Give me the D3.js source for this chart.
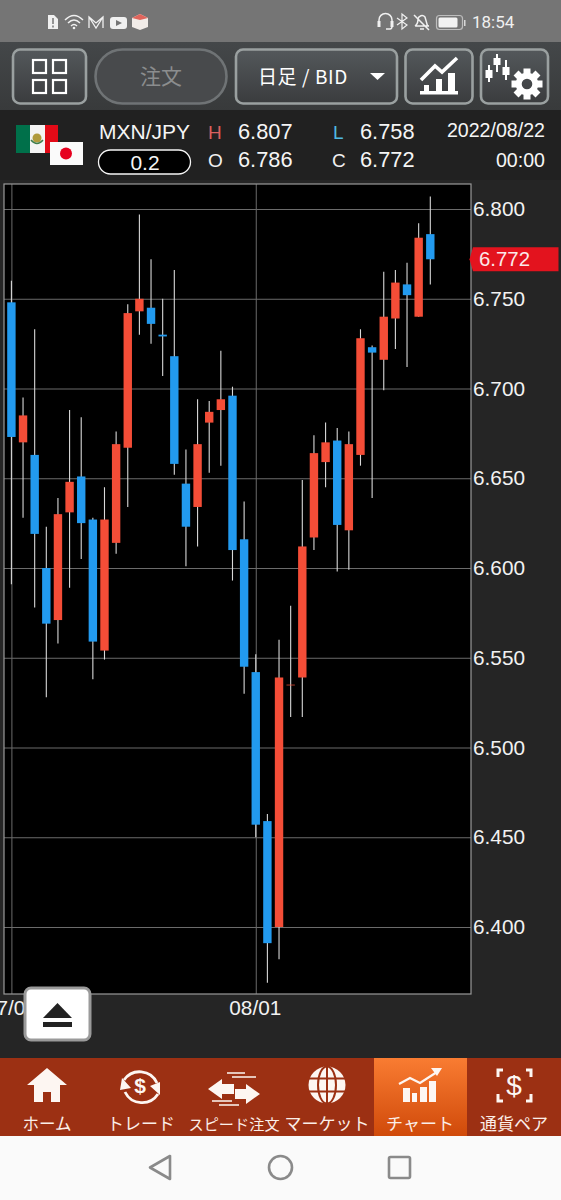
<!DOCTYPE html>
<html>
<head>
<meta charset="utf-8">
<script src="https://cdn.jsdelivr.net/npm/d3@7"></script>
<style>
  html, body { margin: 0; padding: 0; background: #252525; overflow: hidden; }
  svg { display: block; }
  text { font-family: "Liberation Sans", Arial, sans-serif; }
  .jp { font-family: "Noto Sans CJK JP", sans-serif; }
</style>
</head>
<body>
<div id="chart"></div>
<script>
// candle values, oldest first
const opens = [6.748, 6.670, 6.663, 6.600, 6.571, 6.631, 6.651, 6.627, 6.554, 6.614, 6.667, 6.743, 6.745, 6.730, 6.718, 6.647, 6.634, 6.681, 6.688, 6.696, 6.616, 6.542, 6.459, 6.400, 6.535, 6.539, 6.617, 6.659, 6.671, 6.621, 6.663, 6.723, 6.716, 6.739, 6.758, 6.740, 6.786];
const highs = [6.760, 6.695, 6.733, 6.623, 6.639, 6.688, 6.684, 6.628, 6.645, 6.676, 6.747, 6.797, 6.772, 6.750, 6.766, 6.666, 6.694, 6.693, 6.721, 6.701, 6.637, 6.552, 6.463, 6.560, 6.579, 6.649, 6.674, 6.681, 6.678, 6.676, 6.733, 6.724, 6.765, 6.766, 6.770, 6.792, 6.807];
const lows = [6.591, 6.628, 6.578, 6.528, 6.558, 6.589, 6.605, 6.538, 6.549, 6.608, 6.634, 6.730, 6.725, 6.707, 6.652, 6.601, 6.612, 6.653, 6.657, 6.593, 6.530, 6.450, 6.369, 6.382, 6.517, 6.517, 6.610, 6.645, 6.598, 6.599, 6.657, 6.639, 6.699, 6.722, 6.712, 6.740, 6.758];
const closes = [6.673, 6.685, 6.619, 6.569, 6.630, 6.648, 6.625, 6.559, 6.627, 6.669, 6.742, 6.750, 6.736, 6.729, 6.658, 6.623, 6.669, 6.687, 6.694, 6.610, 6.545, 6.457, 6.391, 6.539, 6.535, 6.612, 6.664, 6.670, 6.624, 6.669, 6.728, 6.720, 6.740, 6.759, 6.752, 6.784, 6.772];

const priceTicks = [6.800, 6.750, 6.700, 6.650, 6.600, 6.550, 6.500, 6.450, 6.400];
const dateTickIndex = [0, 21];
const dateTickLabels = ["07/01", "08/01"];

const navLabels = ["ホーム", "トレード", "スピード注文", "マーケット", "チャート", "通貨ペア"];

const upColor = "#f44d37";
const downColor = "#229aef";

const width = 561;
const height = 1200;
const plot = { left: 4, right: 471, top: 184, bottom: 994 };

const svg = d3.select("#chart").append("svg")
  .attr("width", width)
  .attr("height", height)
  .attr("viewBox", `0 0 ${width} ${height}`);

const defs = svg.append("defs");

function gradient(id, stops) {
  const g = defs.append("linearGradient").attr("id", id)
    .attr("x1", 0).attr("y1", 0).attr("x2", 0).attr("y2", 1);
  stops.forEach((s, i) => {
    g.append("stop").attr("offset", i / (stops.length - 1)).attr("stop-color", s);
  });
}
gradient("toolbarBg", ["#444749", "#383a3b"]);
gradient("buttonBg", ["#54585b", "#3a3c3e"]);
gradient("activeTab", ["#f97c32", "#d04a0a"]);

// page chrome -----------------------------------------------------------
svg.append("rect").attr("width", width).attr("height", height).attr("fill", "#252525");
svg.append("rect").attr("width", width).attr("height", 42).attr("fill", "#757575");
svg.append("rect").attr("y", 42).attr("width", width).attr("height", 68).attr("fill", "url(#toolbarBg)");
svg.append("rect").attr("y", 110).attr("width", width).attr("height", 70).attr("fill", "#212121");

drawStatusBar();
drawToolbar();
drawInfoRow();

// chart -----------------------------------------------------------------
const x = d3.scaleLinear()
  .domain([0, opens.length - 1])
  .range([11.4, 430.3]);

const y = d3.scaleLinear()
  .domain([6.8, 6.4])
  .range([209, 927]);

svg.append("rect")
  .attr("x", plot.left)
  .attr("y", plot.top)
  .attr("width", plot.right - plot.left)
  .attr("height", plot.bottom - plot.top)
  .attr("fill", "#000");

// horizontal grid, the axis' own ticks stretched over the plot
const gridY = svg.append("g")
  .attr("transform", `translate(${plot.left},0)`)
  .call(d3.axisRight(y).tickValues(priceTicks).tickSize(plot.right - plot.left).tickFormat(""));
gridY.select(".domain").remove();
gridY.selectAll("line").attr("stroke", "#6b6b6b").attr("stroke-width", 1);

const gridX = svg.append("g")
  .attr("transform", `translate(0,${plot.top})`)
  .call(d3.axisBottom(x).tickValues(dateTickIndex).tickSize(plot.bottom - plot.top).tickFormat(""));
gridX.select(".domain").remove();
gridX.selectAll("line").attr("stroke", "#6b6b6b").attr("stroke-width", 1);

svg.append("rect")
  .attr("x", plot.left)
  .attr("y", plot.top)
  .attr("width", plot.right - plot.left)
  .attr("height", plot.bottom - plot.top)
  .attr("fill", "none")
  .attr("stroke", "#9a9a9a")
  .attr("stroke-width", 1.2);

const candles = svg.append("g").selectAll("g")
  .data(opens.map((o, i) => ({ i, o, h: highs[i], l: lows[i], c: closes[i] })))
  .join("g");

candles.append("line")
  .attr("x1", d => x(d.i))
  .attr("x2", d => x(d.i))
  .attr("y1", d => y(d.h))
  .attr("y2", d => y(d.l))
  .attr("stroke", "#d8d8d8")
  .attr("stroke-width", 1.1);

candles.append("rect")
  .attr("x", d => x(d.i) - 4.2)
  .attr("width", 8.4)
  .attr("y", d => y(Math.max(d.o, d.c)))
  .attr("height", d => Math.max(0.7, Math.abs(y(d.o) - y(d.c))))
  .attr("fill", d => d.c < d.o ? downColor : upColor);

const priceAxis = svg.append("g")
  .attr("transform", `translate(${plot.right + 1},0)`)
  .call(d3.axisRight(y).tickValues(priceTicks).tickSize(0).tickFormat(d3.format(".3f")));
priceAxis.select(".domain").remove();
priceAxis.selectAll("text")
  .attr("x", 1)
  .attr("fill", "#f2f2f2")
  .style("font-size", "20.8px")
  .style("font-family", "'Liberation Sans', Arial, sans-serif");

const dateAxis = svg.append("g")
  .attr("transform", `translate(-1,${plot.bottom})`)
  .call(d3.axisBottom(x).tickValues(dateTickIndex).tickSize(0).tickFormat((d, i) => dateTickLabels[i]));
dateAxis.select(".domain").remove();
dateAxis.selectAll("text")
  .attr("y", 6)
  .attr("fill", "#f2f2f2")
  .style("font-size", "20.8px")
  .style("font-family", "'Liberation Sans', Arial, sans-serif");

// last price tag
const lastClose = closes[closes.length - 1];
const tagY = y(lastClose);
svg.append("path")
  .attr("d", `M469.5,${tagY} L473,${tagY - 12} H558.5 V${tagY + 12} H473 Z`)
  .attr("fill", "#e3131e");
svg.append("text")
  .attr("x", 479)
  .attr("y", tagY + 7)
  .attr("fill", "#fbe9e9")
  .attr("font-size", 20.4)
  .text(d3.format(".3f")(lastClose));

drawEjectButton();
drawNav();

// helpers ---------------------------------------------------------------
function button(bx, by, w, h, rx, stroke) {
  svg.append("rect")
    .attr("x", bx).attr("y", by).attr("width", w).attr("height", h).attr("rx", rx)
    .attr("fill", "url(#buttonBg)")
    .attr("stroke", stroke)
    .attr("stroke-width", 2.6);
}

function drawStatusBar() {
  const g = svg.append("g").attr("fill", "none").attr("stroke", "#f0f0f0").attr("stroke-width", 1.5);
  // sim alert
  g.append("path").attr("d", "M48,15 H54 L58,19 V29 H48 Z").attr("fill", "#f0f0f0").attr("stroke", "none");
  g.append("path").attr("d", "M53,18 V24 M53,25.5 V27.5").attr("stroke", "#757575");
  // wifi
  g.append("path").attr("d", "M65,20 Q74,11 83,20 M68,23 Q74,17 80,23 M71,26 Q74,23 77,26");
  g.append("circle").attr("cx", 74).attr("cy", 28).attr("r", 1.3).attr("fill", "#f0f0f0").attr("stroke", "none");
  // gmail
  g.append("path").attr("d", "M89,28 V17 L96,23 L103,17 V28 M89,17 L96,28 L103,17").attr("stroke-width", 1.3);
  // youtube
  svg.append("rect").attr("x", 110).attr("y", 17).attr("width", 17).attr("height", 12).attr("rx", 3).attr("fill", "#f0f0f0");
  svg.append("path").attr("d", "M116,20 L122,23 L116,26 Z").attr("fill", "#757575");
  // store box
  svg.append("path").attr("d", "M132,18 L140,14 L148,18 V27 L140,30 L132,27 Z").attr("fill", "#f1ece8");
  svg.append("path").attr("d", "M132,18 L140,14 L148,18 L140,20 Z").attr("fill", "#e0655c");
  // headset, bluetooth, mute, battery
  g.append("path").attr("d", "M379,25 V20 A6.5,6.5 0 0 1 392,20 V25 M386,29 H390 Q392,29 392,26");
  svg.append("rect").attr("x", 377.5).attr("y", 21).attr("width", 3).attr("height", 6).attr("fill", "#f0f0f0");
  svg.append("rect").attr("x", 390.5).attr("y", 21).attr("width", 3).attr("height", 6).attr("fill", "#f0f0f0");
  g.append("path").attr("d", "M397,18 L407,25 L402,29 V14 L407,18 L397,25").attr("stroke-width", 1.2);
  g.append("path").attr("d", "M415,26 Q418,24 418,19 A4,4 0 0 1 425,17 L427,24 Q427,26 429,26 H415 M414,15 L429,30 M420,29 H424");
  svg.append("rect").attr("x", 436.5).attr("y", 15.5).attr("width", 26).attr("height", 14).attr("rx", 3)
    .attr("fill", "none").attr("stroke", "#bdbdbd").attr("stroke-width", 1.2);
  svg.append("rect").attr("x", 438.5).attr("y", 17.5).attr("width", 19).attr("height", 10).attr("rx", 1.5).attr("fill", "#f2f2f2");
  svg.append("rect").attr("x", 464).attr("y", 20).attr("width", 1.5).attr("height", 6).attr("fill", "#d8d8d8");
  svg.append("text").attr("x", 472).attr("y", 28).attr("fill", "#f0f0f0")
    .attr("font-size", 17).style("font-family", "Roboto, sans-serif").text("18:54");
}

function drawToolbar() {
  button(13, 49.5, 73, 54, 7, "#9aa0a0");
  // order button is disabled, so it sits dimmer
  svg.append("rect").attr("x", 95.5).attr("y", 49.5).attr("width", 131).attr("height", 54).attr("rx", 27)
    .attr("fill", "#484a4c").attr("stroke", "#6f7375").attr("stroke-width", 2.6);
  button(236, 49.5, 161, 54, 7, "#9aa0a0");
  button(405.5, 49.5, 67, 54, 7, "#9aa0a0");
  button(481, 49.5, 67, 54, 7, "#9aa0a0");

  // grid icon
  [[33, 60], [53, 60], [33, 80], [53, 80]].forEach(p => {
    svg.append("rect").attr("x", p[0]).attr("y", p[1]).attr("width", 13).attr("height", 13)
      .attr("fill", "none").attr("stroke", "#fff").attr("stroke-width", 2.2);
  });

  svg.append("text").attr("class", "jp").attr("x", 161).attr("y", 84).attr("text-anchor", "middle")
    .attr("font-size", 21).attr("fill", "#8b8d8e").text("注文");
  svg.append("text").attr("class", "jp").attr("x", 258).attr("y", 84)
    .attr("font-size", 19).attr("letter-spacing", 0.6).attr("fill", "#fff").text("日足 / BID");
  svg.append("path").attr("d", "M370,73 H385 L377.5,80 Z").attr("fill", "#fff");

  // line + bars icon
  svg.append("path").attr("d", "M420,94.5 V91 H424 V85 H429 V91 H436 V79 H442 V91 H448 V73 H455 V91 H458 V94.5 Z").attr("fill", "#fff");
  svg.append("path").attr("d", "M421,80 L435,66 L442,72 L457,58").attr("fill", "none").attr("stroke", "#fff").attr("stroke-width", 3.6);

  // candles + gear icon
  const ic = svg.append("g").attr("fill", "#fff");
  [[489, 70, 78, 65, 82], [497, 58, 65, 54, 72], [506, 67, 75, 60, 80]].forEach(c => {
    ic.append("rect").attr("x", c[0] - 1).attr("y", c[3]).attr("width", 2).attr("height", c[4] - c[3]);
    ic.append("rect").attr("x", c[0] - 3.5).attr("y", c[1]).attr("width", 7).attr("height", c[2] - c[1]);
  });
  const gear = svg.append("g").attr("transform", "translate(527,84)");
  d3.range(8).forEach(i => {
    gear.append("rect").attr("x", -3.5).attr("y", -15.5).attr("width", 7).attr("height", 8)
      .attr("fill", "#fff").attr("transform", `rotate(${i * 45})`);
  });
  gear.append("circle").attr("r", 8.3).attr("fill", "none").attr("stroke", "#fff").attr("stroke-width", 6);
}

function drawInfoRow() {
  // flags
  svg.append("rect").attr("x", 16).attr("y", 125).attr("width", 14).attr("height", 28).attr("fill", "#00704a");
  svg.append("rect").attr("x", 30).attr("y", 125).attr("width", 15).attr("height", 28).attr("fill", "#f4f4f4");
  svg.append("rect").attr("x", 45).attr("y", 125).attr("width", 13).attr("height", 28).attr("fill", "#e30a17");
  svg.append("circle").attr("cx", 37).attr("cy", 138).attr("r", 4.5).attr("fill", "#b09a3c");
  svg.append("path").attr("d", "M31,140 Q37,147 43,140").attr("fill", "none").attr("stroke", "#3f7d4a").attr("stroke-width", 1.5);
  svg.append("rect").attr("x", 50).attr("y", 142).attr("width", 33).attr("height", 23).attr("fill", "#fafafa");
  svg.append("circle").attr("cx", 66).attr("cy", 153.5).attr("r", 6).attr("fill", "#e6001e");

  const label = (tx, ty, t, size, fill, anchor) => svg.append("text")
    .attr("x", tx).attr("y", ty).attr("font-size", size).attr("fill", fill)
    .attr("text-anchor", anchor || "start").text(t);

  label(99, 139, "MXN/JPY", 21, "#f5f5f5");
  svg.append("rect").attr("x", 98.5).attr("y", 150).attr("width", 92).attr("height", 24).attr("rx", 12)
    .attr("fill", "#000").attr("stroke", "#f5f5f5").attr("stroke-width", 1.3);
  label(145, 170, "0.2", 21, "#f5f5f5", "middle");

  label(208, 139, "H", 19, "#d9605f");
  label(208, 167, "O", 19, "#f0f0f0");
  label(333, 139, "L", 19, "#4fb9e3");
  label(332, 167, "C", 19, "#f0f0f0");
  label(238, 139, "6.807", 21.8, "#f5f5f5");
  label(238, 167, "6.786", 21.8, "#f5f5f5");
  label(360, 139, "6.758", 21.8, "#f5f5f5");
  label(360, 167, "6.772", 21.8, "#f5f5f5");
  label(545, 137, "2022/08/22", 19.6, "#f5f5f5", "end");
  label(545, 167, "00:00", 19.6, "#f5f5f5", "end");
}

function drawEjectButton() {
  svg.append("rect").attr("x", 25).attr("y", 988).attr("width", 65).attr("height", 52).attr("rx", 6)
    .attr("fill", "#fff").attr("stroke", "#9a9a9a").attr("stroke-width", 3);
  svg.append("path").attr("d", "M43,1018 L57.5,1003 L72,1018 Z").attr("fill", "#222");
  svg.append("rect").attr("x", 43).attr("y", 1022).attr("width", 29).attr("height", 5).attr("fill", "#222");
}

function drawNav() {
  svg.append("rect").attr("y", 1058).attr("width", width).attr("height", 78).attr("fill", "#9c3013");
  svg.append("rect").attr("x", 374).attr("y", 1058).attr("width", 93).attr("height", 78).attr("fill", "url(#activeTab)");
  svg.append("rect").attr("y", 1136).attr("width", width).attr("height", 64).attr("fill", "#fafafa");

  const centers = [47, 141, 234, 327, 420, 514];
  svg.selectAll(".nav-label").data(navLabels).join("text")
    .attr("class", "jp nav-label")
    .attr("x", (d, i) => centers[i])
    .attr("y", 1130)
    .attr("text-anchor", "middle")
    .attr("font-size", (d, i) => i === 2 ? 15.2 : i === 0 ? 16.5 : 17)
    .attr("fill", "#fbeee8")
    .text(d => d);

  const w = "#fdf6f2";
  // home
  svg.append("path").attr("d", "M47,1068 L67,1085 H60 V1102 H51 V1092 H43 V1102 H34 V1085 H27 Z").attr("fill", w);
  // trade
  svg.append("path").attr("d", "M124,1080 A19,19 0 0 1 157,1083 M158,1094 A19,19 0 0 1 125,1092")
    .attr("fill", "none").attr("stroke", w).attr("stroke-width", 2.8);
  svg.append("path").attr("d", "M120,1090 L131,1088 L122,1078 Z M160,1082 L150,1086 L160,1095 Z").attr("fill", w);
  svg.append("text").attr("x", 140).attr("y", 1093).attr("text-anchor", "middle").attr("font-size", 21).attr("font-weight", "bold").attr("fill", w).text("$");
  // speed order
  svg.append("path").attr("d", "M208,1089 L222,1079 V1084 H234 V1094 H222 V1099 Z M260,1094 L246,1084 V1089 H235 V1099 H246 V1104 Z").attr("fill", w);
  svg.append("path").attr("d", "M227,1073 H245 M232,1077 H256 M212,1101 H232 M219,1105 H239")
    .attr("stroke", w).attr("stroke-width", 1.5);
  // market globe, dark lattice over a filled disc
  svg.append("circle").attr("cx", 327).attr("cy", 1085).attr("r", 18.5).attr("fill", w);
  const globe = svg.append("g").attr("fill", "none").attr("stroke", "#9c3013").attr("stroke-width", 2);
  globe.append("ellipse").attr("cx", 327).attr("cy", 1085).attr("rx", 9).attr("ry", 18.5);
  globe.append("path").attr("d", "M327,1066 V1104 M308,1078.5 H346 M308,1091.5 H346");
  // chart tab
  [[403, 1088, 7, 14], [412, 1093, 5, 9], [420, 1087, 7, 15], [429, 1081, 7, 21]].forEach(b => {
    svg.append("rect").attr("x", b[0]).attr("y", b[1]).attr("width", b[2]).attr("height", b[3]).attr("fill", w);
  });
  svg.append("path").attr("d", "M399,1084 L410,1078 L420,1083 L437,1072").attr("fill", "none").attr("stroke", w).attr("stroke-width", 2.2);
  svg.append("path").attr("d", "M431,1068 H442 L437,1076 Z").attr("fill", w);
  // currency pair
  svg.append("path").attr("d", "M503,1070 H498 V1077 M526,1070 H531 V1077 M503,1101 H498 V1094 M526,1101 H531 V1094")
    .attr("fill", "none").attr("stroke", w).attr("stroke-width", 3);
  svg.append("text").attr("x", 514).attr("y", 1095).attr("text-anchor", "middle").attr("font-size", 28).attr("fill", w).text("$");

  // android keys
  const k = svg.append("g").attr("fill", "none").attr("stroke", "#8a8a8a").attr("stroke-width", 2.6).attr("stroke-linejoin", "round");
  k.append("path").attr("d", "M170,1156 V1179 L150,1167.5 Z");
  k.append("circle").attr("cx", 280.5).attr("cy", 1167.5).attr("r", 11.5);
  k.append("rect").attr("x", 389).attr("y", 1157).attr("width", 21).attr("height", 21).attr("rx", 1.5);
}
</script>
</body>
</html>
